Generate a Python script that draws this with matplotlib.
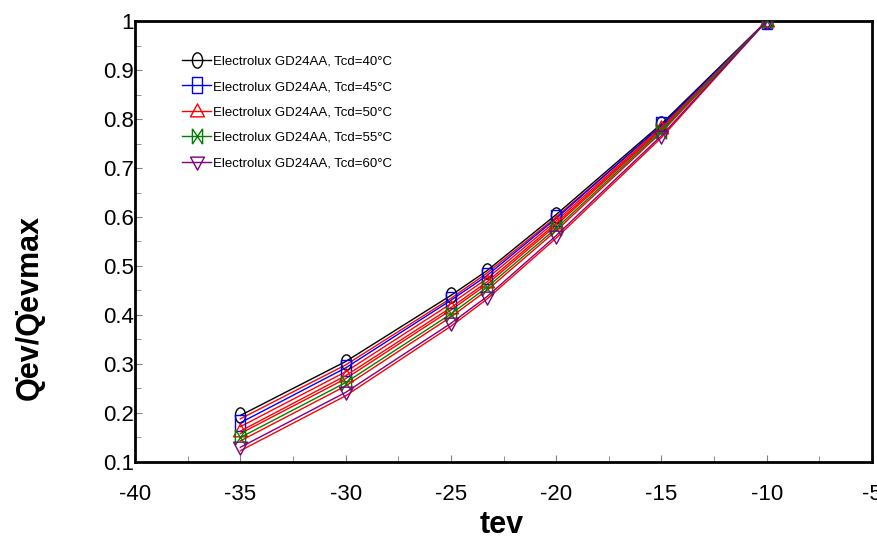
import numpy as np
import matplotlib
matplotlib.use("Agg")
import matplotlib.pyplot as plt
from matplotlib.ticker import MultipleLocator
from matplotlib.path import Path
from matplotlib.transforms import Affine2D

plt.rcParams['font.family'] = ['Liberation Sans', 'DejaVu Sans']
plt.rcParams['axes.unicode_minus'] = False

# evaporating temperature
tev = [-35, -30, -25, -23.3, -20, -15, -10]

# measured Qev/Qevmax for each condensing temperature
q_40 = [0.195, 0.305, 0.440, 0.490, 0.605, 0.790, 1.0]
q_45 = [0.180, 0.292, 0.430, 0.480, 0.597, 0.787, 1.0]
q_50 = [0.163, 0.276, 0.415, 0.467, 0.587, 0.781, 1.0]
q_55 = [0.150, 0.262, 0.402, 0.456, 0.577, 0.776, 1.0]
q_60 = [0.130, 0.242, 0.383, 0.437, 0.562, 0.766, 1.0]

# red fit curves drawn next to each series
fit_40 = [0.188, 0.298, 0.434, 0.485, 0.600, 0.786, 1.0]
fit_45 = [0.172, 0.284, 0.423, 0.474, 0.592, 0.783, 1.0]
fit_50 = [0.158, 0.270, 0.410, 0.462, 0.583, 0.779, 1.0]
fit_55 = [0.143, 0.255, 0.396, 0.450, 0.572, 0.773, 1.0]
fit_60 = [0.123, 0.235, 0.377, 0.432, 0.557, 0.762, 1.0]

labels = ['Electrolux GD24AA, Tcd=40°C', 'Electrolux GD24AA, Tcd=45°C',
          'Electrolux GD24AA, Tcd=50°C', 'Electrolux GD24AA, Tcd=55°C',
          'Electrolux GD24AA, Tcd=60°C']

series = [q_40, q_45, q_50, q_55, q_60]
fits = [fit_40, fit_45, fit_50, fit_55, fit_60]
colors = ['black', 'blue', 'red', 'green', 'purple']

# markers are a bit taller than wide in the original
stretch = Affine2D().scale(1.0, 1.5)
circle = Path.unit_circle().transformed(stretch)
square = Path([(-1, -1), (1, -1), (1, 1), (-1, 1), (-1, -1)],
              [1, 2, 2, 2, 79]).transformed(stretch)
tri_up = Path([(0, 1), (-1, -0.7), (1, -0.7), (0, 1)], [1, 2, 2, 79]).transformed(Affine2D().scale(1.0, 1.1))
bowtie = Path([(-1, -1), (1, 1), (-1, 1), (1, -1), (-1, -1), (-1, 1), (1, -1), (1, 1)],
              [1, 2, 1, 2, 1, 2, 1, 2]).transformed(stretch)
tri_dn = Path([(0, -1), (-1, 0.7), (1, 0.7), (0, -1)], [1, 2, 2, 79]).transformed(Affine2D().scale(1.0, 1.1))
markers = [circle, square, tri_up, bowtie, tri_dn]

fig = plt.figure(figsize=(8.78, 5.43), dpi=100)
ax = fig.add_axes([0.1538, 0.1492, 0.8394, 0.8121])

for f in fits:
    ax.plot(tev, f, color='red', lw=1.0, zorder=2)

for y, c, m, lab in zip(series, colors, markers, labels):
    ax.plot(tev, y, color=c, lw=1.0, marker=m, markersize=11,
            markerfacecolor='none', markeredgecolor=c,
            markeredgewidth=1.0, label=lab, zorder=3)

ax.set_xlim(-40, -5)
ax.set_ylim(0.1, 1.0)
ax.xaxis.set_major_locator(MultipleLocator(5))
ax.xaxis.set_minor_locator(MultipleLocator(2.5))
ax.yaxis.set_minor_locator(MultipleLocator(0.05))
ax.set_yticks(np.arange(0.1, 1.01, 0.1))
ax.set_yticklabels(['0.1', '0.2', '0.3', '0.4', '0.5', '0.6', '0.7', '0.8', '0.9', '1'])

ax.tick_params(axis='both', which='both', direction='in', color='gray')
ax.tick_params(axis='both', which='major', length=5, labelsize=16)
ax.tick_params(axis='both', which='minor', length=4)
ax.tick_params(axis='y', which='major', pad=1)
ax.tick_params(axis='x', which='major', pad=16)
for s in ax.spines.values():
    s.set_linewidth(2)

ax.set_xlabel('tev', fontsize=22, fontweight='bold')
ax.xaxis.set_label_coords(0.497, -0.11)
ax.set_ylabel('Q\u0307ev/Q\u0307evmax', fontsize=22, fontweight='bold')
ax.yaxis.set_label_coords(-0.123, 0.35)

ax.legend(loc='upper left', bbox_to_anchor=(0.055, 0.937), frameon=False,
          fontsize=9.5, handlelength=2.2, handletextpad=0.1, labelspacing=1.0,
          borderpad=0)

fig.savefig('out.png', dpi=100)
